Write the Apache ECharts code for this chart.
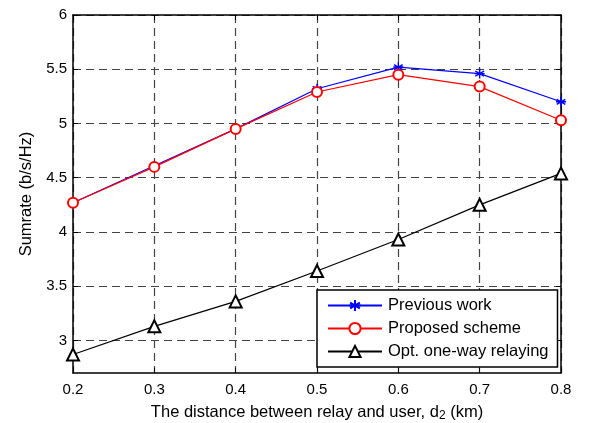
<!DOCTYPE html>
<html>
<head>
<meta charset="utf-8">
<script src="https://cdn.jsdelivr.net/npm/echarts@6/dist/echarts.min.js"></script>
<style>
  html, body { margin: 0; padding: 0; background: #fff; }
  #chart { width: 590px; height: 423px; }
</style>
</head>
<body>
<div id="chart"></div>
<script>
// data
var distances = [0.2, 0.3, 0.4, 0.5, 0.6, 0.7, 0.8];
var previousWork = [4.27, 4.61, 4.95, 5.32, 5.52, 5.46, 5.20];
var proposedScheme = [4.27, 4.60, 4.95, 5.29, 5.45, 5.34, 5.03];
var oneWayRelaying = [2.87, 3.13, 3.36, 3.64, 3.93, 4.25, 4.54];
var xTicks = [0.2, 0.3, 0.4, 0.5, 0.6, 0.7, 0.8];
var yTicks = [3, 3.5, 4, 4.5, 5, 5.5, 6];

function pairs(ys) {
    return distances.map(function (d, i) { return [d, ys[i]]; });
}

var font = 'Liberation Sans, Arial, sans-serif';
var starPath = 'path://M0,-5L0,5M-4.33,-2.5L4.33,2.5M-4.33,2.5L4.33,-2.5M-5,0L5,0';

var chart = echarts.init(document.getElementById('chart'));

var gridLine = { show: true, lineStyle: { color: '#444', type: [8, 5], width: 1.2 } };

var option = {
    animation: false,
    backgroundColor: '#fff',
    textStyle: { fontFamily: font },
    grid: { left: 73, right: 29, top: 15, bottom: 50, outerBoundsMode: 'none', containLabel: false },
    xAxis: [
    {
        type: 'value',
        min: 0.2,
        max: 0.8,
        name: 'The distance between relay and user, d{sub|2} (km)',
        nameLocation: 'middle',
        nameGap: 29,
        nameTextStyle: {
            color: '#000', fontSize: 16.5, fontFamily: font,
            rich: { sub: { fontSize: 12, verticalAlign: 'bottom', padding: [8, 0, 0, 0], fontFamily: font } }
        },
        axisLine: { show: true, onZero: false, lineStyle: { color: '#000', width: 1.5 } },
        axisTick: { inside: true, length: 5, customValues: xTicks, lineStyle: { color: '#000' } },
        axisLabel: {
            customValues: xTicks, color: '#000', fontSize: 15, margin: 9,
            formatter: function (v) { return v.toFixed(1); }
        },
        splitLine: gridLine
    },
    {
        type: 'value',
        position: 'top',
        min: 0.2,
        max: 0.8,
        axisLine: { show: true, onZero: false, lineStyle: { color: '#000', width: 1.5 } },
        axisTick: { inside: true, length: 5, customValues: xTicks, lineStyle: { color: '#000' } },
        axisLabel: { show: false },
        splitLine: { show: false }
    }
    ],
    yAxis: [
    {
        type: 'value',
        min: 2.7,
        max: 6,
        name: 'Sumrate (b/s/Hz)',
        nameLocation: 'middle',
        nameGap: 36,
        nameTextStyle: { color: '#000', fontSize: 16.5, fontFamily: font },
        axisLine: { show: true, onZero: false, lineStyle: { color: '#000', width: 1.5 } },
        axisTick: { show: true, inside: true, length: 5, customValues: yTicks, lineStyle: { color: '#000' } },
        axisLabel: { customValues: yTicks, color: '#000', fontSize: 15, margin: 6 },
        splitLine: gridLine
    },
    {
        type: 'value',
        position: 'right',
        min: 2.7,
        max: 6,
        axisLine: { show: true, onZero: false, lineStyle: { color: '#000', width: 1.5 } },
        axisTick: { show: true, inside: true, length: 5, customValues: yTicks, lineStyle: { color: '#000' } },
        axisLabel: { show: false },
        splitLine: { show: false }
    }
    ],
    legend: {
        orient: 'vertical',
        left: 317,
        top: 290,
        padding: [7, 9, 7, 10],
        itemGap: 6,
        itemWidth: 54,
        itemHeight: 14,
        backgroundColor: '#fff',
        borderColor: '#000',
        borderWidth: 1.5,
        borderRadius: 0,
        textStyle: { color: '#000', fontSize: 16.5, fontFamily: font, padding: [0, 0, 0, 1] },
        data: ['Previous work', 'Proposed scheme', 'Opt. one-way relaying']
    },
    series: [
    {
        name: 'Previous work',
        type: 'line',
        data: pairs(previousWork),
        symbol: starPath,
        symbolSize: 10,
        color: '#0000ff',
        lineStyle: { color: '#0000ff', width: 1.2 },
        itemStyle: { color: '#0000ff', borderColor: '#0000ff', borderWidth: 1.4 }
    },
    {
        name: 'Proposed scheme',
        type: 'line',
        data: pairs(proposedScheme),
        symbol: 'emptyCircle',
        symbolSize: 10,
        color: '#ff0000',
        lineStyle: { color: '#ff0000', width: 1.2 },
        itemStyle: { color: '#ff0000', borderColor: '#ff0000', borderWidth: 1.2 }
    },
    {
        name: 'Opt. one-way relaying',
        type: 'line',
        data: pairs(oneWayRelaying),
        symbol: 'emptyTriangle',
        symbolSize: 12,
        color: '#000',
        lineStyle: { color: '#000', width: 1.2 },
        itemStyle: { color: '#000', borderColor: '#000', borderWidth: 1.2 }
    }
    ]
};

chart.setOption(option);
</script>
</body>
</html>
